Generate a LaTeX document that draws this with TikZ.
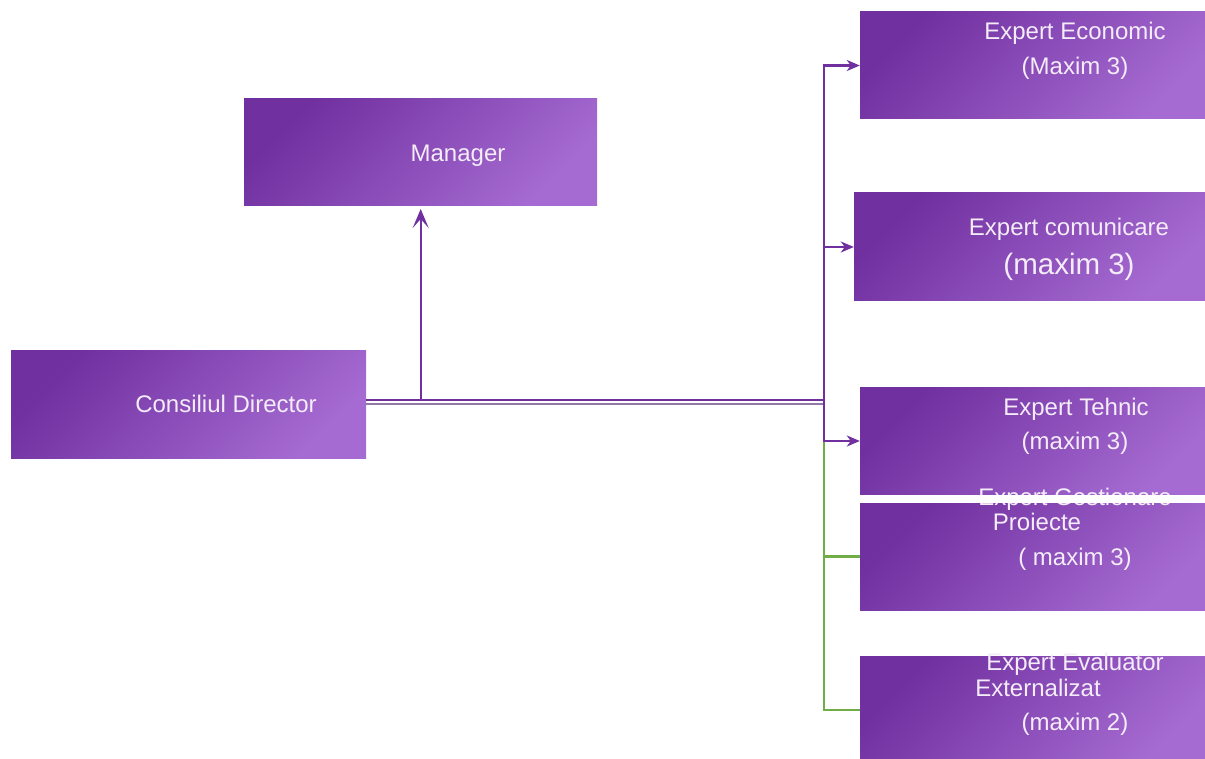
\documentclass[tikz,border=0pt]{standalone}
\usepackage{fontspec}
\setmainfont{Liberation Sans}
\usetikzlibrary{arrows.meta}
\definecolor{pdark}{HTML}{7030A0}
\definecolor{plight}{HTML}{A66BD2}
\definecolor{lgreen}{HTML}{70AD47}
\definecolor{lgray}{HTML}{9079A8}
\definecolor{txtc}{HTML}{F4ECF8}
\begin{document}
\begin{tikzpicture}[x=1pt,y=-1pt,
  box/.style={draw=none, inner sep=0pt, left color=pdark, right color=plight, shading angle=45},
  txt/.style={text=txtc, font=\fontsize{24}{28}\selectfont, anchor=base, inner sep=0pt},
  bigtxt/.style={text=txtc, font=\fontsize{29.5}{34}\selectfont, anchor=base, inner sep=0pt},
  pline/.style={draw=pdark, line width=2.3pt},
  gline/.style={draw=lgreen, line width=2.3pt},
  grline/.style={draw=lgray, line width=2pt},
  sidearrow/.style={-{Stealth[length=13pt,width=11pt,inset=4pt]}},
  uparrow/.style={-{Stealth[length=19pt,width=16pt,inset=9pt]}}
]
\useasboundingbox (0,0) rectangle (1205,759);
\fill[white] (0,0) rectangle (1205,759);

% boxes
\node[box, minimum width=355, minimum height=107] (cd)   at (188.5,404.5) {};
\node[box, minimum width=353, minimum height=107] (mgr)  at (420.5,152.5) {};
\node[box, minimum width=350, minimum height=107] (econ) at (1035,65.5) {};
\node[box, minimum width=356, minimum height=108] (comm) at (1032,247) {};
\node[box, minimum width=350, minimum height=108] (teh)  at (1035,441) {};
\node[box, minimum width=350, minimum height=107] (gest) at (1035,556.5) {};
\node[box, minimum width=350, minimum height=108] (eval) at (1035,710) {};

% junction coordinates
\coordinate (j)  at (824.3,400);
\coordinate (j2) at (824.3,404);
\coordinate (mj) at (420.7,400);
\coordinate (mt) at (420.7,209);

% connectors
\draw[gline] (j2) |- (gest.west);
\draw[gline] (j2) |- (eval.west);
\draw[grline] ([yshift=0.5pt]cd.east) -- (j2);
\draw[pline] ([yshift=4.5pt]cd.east) -- (j);
\draw[pline, uparrow] (mj) -- (mt);
\draw[pline, sidearrow] (j) |- (econ.west);
\draw[pline, sidearrow] (j) |- (comm.west);
\draw[pline, sidearrow] (j) |- (teh.west);

% texts
\node[txt] (tmgr) at (458,161.5) {Manager};
\node[txt] (tcd)  at (226,412.5) {Consiliul Director};
\node[txt] (te1)  at (1075,39.5) {Expert Economic};
\node[txt] (te2)  at (1075,74.5) {(Maxim 3)};
\node[txt] (tc1)  at (1069,235.5) {Expert comunicare};
\node[bigtxt] (tc2) at (1069,275) {(maxim 3)};
\node[txt] (tt1)  at (1076,415.5) {Expert Tehnic};
\node[txt] (tt2)  at (1075,449.5) {(maxim 3)};
\node[txt] (tg1)  at (1075,505.5) {Expert Gestionare};
\node[txt] (tg2)  at (1037,530.5) {Proiecte};
\node[txt] (tg3)  at (1075,565.5) {( maxim 3)};
\node[txt] (tv1)  at (1075,670.5) {Expert Evaluator};
\node[txt] (tv2)  at (1038,696.5) {Externalizat};
\node[txt] (tv3)  at (1075,730.5) {(maxim 2)};
% white gap line crossing Gestionare heading
\fill[white] (860,495) rectangle (1210,502.5);
\end{tikzpicture}
\end{document}
